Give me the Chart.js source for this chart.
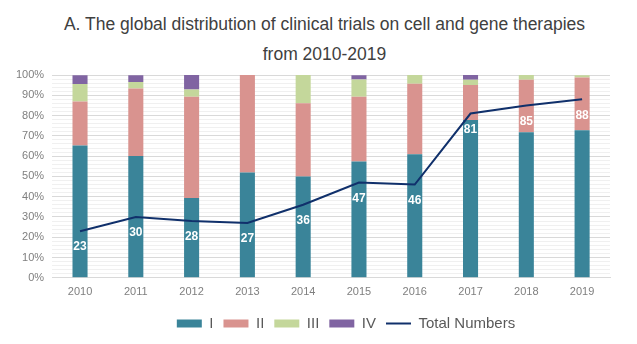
<!DOCTYPE html>
<html>
<head>
<meta charset="utf-8">
<script src="https://cdn.jsdelivr.net/npm/chart.js@4/dist/chart.umd.min.js"></script>
<style>
  html, body { margin: 0; padding: 0; background: #fff; }
  #title {
    width: 637px; height: 67px; box-sizing: border-box;
    padding: 9px 0 0 12px;
    font-family: "Liberation Sans", Arial, sans-serif;
    font-size: 17.5px; line-height: 30px; color: #404040;
    text-align: center;
  }
  #chart { display: block; }
</style>
</head>
<body>
<div id="title">A. The global distribution of clinical trials on cell and gene therapies<br>from 2010-2019</div>
<canvas id="chart" width="637" height="277"></canvas>
<script>
// Data
const years = ['2010', '2011', '2012', '2013', '2014', '2015', '2016', '2017', '2018', '2019'];
const phaseI = [65.2, 60.0, 39.3, 51.9, 50.0, 57.4, 60.9, 77.8, 71.8, 72.7];
const phaseII = [21.7, 33.3, 50.0, 48.1, 36.1, 31.9, 34.8, 17.3, 25.9, 26.1];
const phaseIII = [8.7, 3.3, 3.6, 0, 13.9, 8.5, 4.3, 2.5, 2.4, 1.1];
const phaseIV = [4.3, 3.3, 7.1, 0, 0, 2.1, 0, 2.5, 0, 0];
const totalNumbers = [23, 30, 28, 27, 36, 47, 46, 81, 85, 88];

// Labels under the line points
const totalLabels = {
    id: 'totalLabels',
    afterDatasetsDraw(chart) {
        const ctx = chart.ctx;
        const meta = chart.getDatasetMeta(4);
        ctx.save();
        ctx.fillStyle = '#ffffff';
        ctx.font = 'bold 12px "Liberation Sans", Arial, sans-serif';
        ctx.textAlign = 'center';
        ctx.textBaseline = 'middle';
        meta.data.forEach((pt, i) => {
            ctx.fillText(totalNumbers[i], pt.x, pt.y + 16);
        });
        ctx.restore();
    }
};

// The legend sits a bit right of centre in the original
const legendShift = {
    id: 'legendShift',
    afterLayout(chart) {
        chart.legend.left += 37;
        chart.legend.right += 37;
    }
};

function barSet(label, data, color) {
    return {
        type: 'bar',
        label: label,
        data: data,
        backgroundColor: color,
        borderWidth: 0,
        barPercentage: 0.27,
        categoryPercentage: 1,
        stack: 'phases',
        order: 1
    };
}

new Chart(document.getElementById('chart'), {
    data: {
        labels: years,
        datasets: [
            barSet('I', phaseI, '#3a8499'),
            barSet('II', phaseII, '#d9938f'),
            barSet('III', phaseIII, '#c4d79b'),
            barSet('IV', phaseIV, '#8064a2'),
            {
                type: 'line',
                label: 'Total Numbers',
                data: totalNumbers,
                borderColor: '#10306b',
                backgroundColor: '#10306b',
                borderWidth: 2,
                pointRadius: 0,
                tension: 0,
                stack: 'total',
                order: 0
            }
        ]
    },
    options: {
        responsive: false,
        animation: false,
        layout: { padding: { left: 8, right: 27, top: 8, bottom: 3 } },
        plugins: {
            tooltip: { enabled: false },
            title: { display: false },
            legend: {
                position: 'bottom',
                labels: {
                    sort: (a, b) => a.datasetIndex - b.datasetIndex,
                    usePointStyle: true,
                    pointStyleWidth: 25,
                    boxHeight: 8,
                    padding: 10,
                    color: '#595959',
                    font: { family: '"Liberation Sans", Arial, sans-serif', size: 15 },
                    generateLabels(chart) {
                        const items = Chart.defaults.plugins.legend.labels.generateLabels(chart);
                        items.forEach(it => {
                            it.pointStyle = it.datasetIndex === 4 ? 'line' : 'rect';
                        });
                        return items;
                    }
                }
            }
        },
        scales: {
            x: {
                stacked: true,
                grid: { display: false },
                border: { color: '#d9d9d9' },
                afterFit: scale => { scale.height += 7; },
                ticks: {
                    color: '#7f7f7f',
                    font: { family: '"Liberation Sans", Arial, sans-serif', size: 11 },
                    padding: 0
                }
            },
            y: {
                stacked: true,
                min: 0,
                max: 100,
                border: { display: false },
                afterFit: scale => { scale.paddingTop = 0; },
                grid: {
                    color: ctx => (ctx.tick && ctx.tick.value % 10 === 0) ? '#d9d9d9' : '#f0f0f0',
                    drawTicks: false
                },
                ticks: {
                    stepSize: 2,
                    autoSkip: false,
                    color: '#7f7f7f',
                    padding: 8,
                    font: { family: '"Liberation Sans", Arial, sans-serif', size: 11 },
                    callback: v => (v % 10 === 0 ? v + '%' : '')
                }
            }
        }
    },
    plugins: [totalLabels, legendShift]
});
</script>
</body>
</html>
